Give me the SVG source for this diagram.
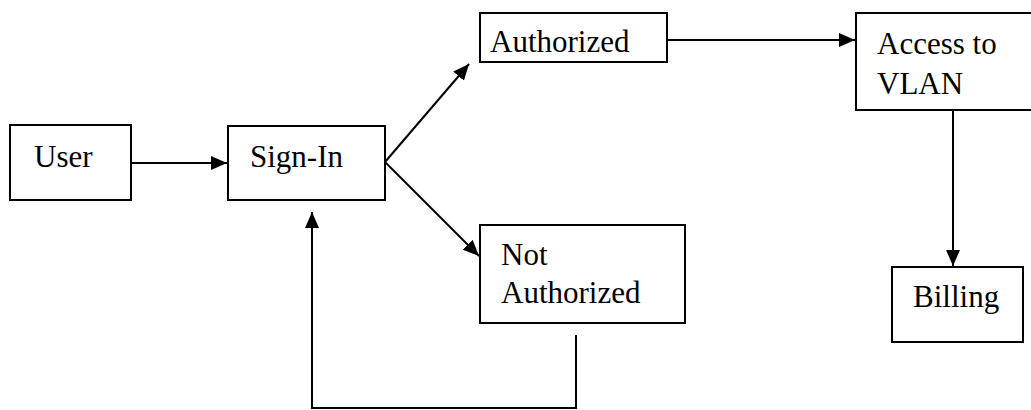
<svg xmlns="http://www.w3.org/2000/svg" width="1031" height="410" viewBox="0 0 1031 410">
<style>
.box{fill:#fff;stroke:#000;stroke-width:2}
.t{font-family:"Liberation Serif","Times New Roman","DejaVu Serif",serif;font-size:31px;fill:#000}
.c{fill:none;stroke:#000;stroke-width:2}
</style>
<defs>
<marker id="ah" markerUnits="userSpaceOnUse" markerWidth="18" markerHeight="16" refX="16" refY="8" orient="auto">
<path d="M0,1 L16,8 L0,15 Z" fill="#000"/>
</marker>
</defs>
<rect width="1031" height="410" fill="#fff"/>
<g id="connectors">
<line class="c" x1="131" y1="163" x2="227" y2="163" marker-end="url(#ah)"/>
<line class="c" x1="385" y1="162" x2="469" y2="64" marker-end="url(#ah)"/>
<line class="c" x1="385" y1="162" x2="479" y2="256" marker-end="url(#ah)"/>
<line class="c" x1="667" y1="40" x2="855" y2="40" marker-end="url(#ah)"/>
<line class="c" x1="953" y1="111" x2="953" y2="266" marker-end="url(#ah)"/>
<polyline class="c" points="576,335 576,408 312,408 312,212" marker-end="url(#ah)"/>
</g>
<g id="user"><rect class="box" x="10" y="125" width="121" height="75"/><text class="t" x="34" y="167">User</text></g>
<g id="signin"><rect class="box" x="228" y="126" width="157" height="74"/><text class="t" x="250" y="167">Sign-In</text></g>
<g id="authorized"><rect class="box" x="480" y="13" width="187" height="49"/><text class="t" x="490" y="52">Authorized</text></g>
<g id="access"><rect class="box" x="856" y="13" width="190" height="97"/><text class="t" x="877" y="54">Access to</text><text class="t" x="877" y="94">VLAN</text></g>
<g id="notauthorized"><rect class="box" x="480" y="225" width="205" height="98"/><text class="t" x="501" y="265">Not</text><text class="t" x="501" y="303">Authorized</text></g>
<g id="billing"><rect class="box" x="892" y="267" width="131" height="75"/><text class="t" x="913" y="307">Billing</text></g>
</svg>
